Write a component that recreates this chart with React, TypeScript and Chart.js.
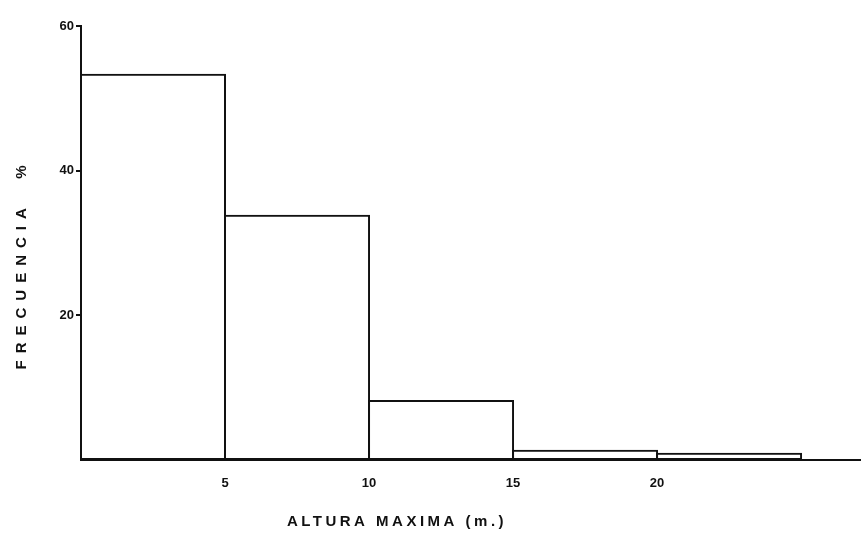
import React, { useEffect, useRef } from "react";
import { Chart, registerables } from "chart.js";

Chart.register(...registerables);

// Histogram data: class centres (m) and frequency (%)
const binCenters = [2.5, 7.5, 12.5, 17.5, 22.5];
const frecuencia = [53.4, 33.9, 8.3, 1.4, 1.0];
const xTicks = [5, 10, 15, 20];
const yTicks = [20, 40, 60];
const xTitle = "ALTURA MAXIMA (m.)";
const yTitle = "FRECUENCIA  %";

const INK = "#111";
const FONT = '"Liberation Sans", Arial, sans-serif';

const titlePlugin = {
  id: "spacedTitles",
  afterDraw(chart: any) {
    const { ctx } = chart;
    ctx.save();
    ctx.fillStyle = INK;
    ctx.textAlign = "center";
    ctx.textBaseline = "middle";
    ctx.font = `bold 15px ${FONT}`;
    (ctx as any).letterSpacing = "3.5px";
    ctx.fillText(xTitle, 397, 522);
    ctx.translate(22, 264);
    ctx.rotate(-Math.PI / 2);
    (ctx as any).letterSpacing = "7px";
    ctx.fillText(yTitle, 0, 0);
    ctx.restore();
  },
};

export default function App() {
  const ref = useRef<HTMLCanvasElement>(null);
  useEffect(() => {
    if (!ref.current) return;
    const chart = new Chart(ref.current, {
      type: "bar",
      data: {
        datasets: [
          {
            data: binCenters.map((x, i) => ({ x, y: frecuencia[i] })),
            backgroundColor: "rgba(255,255,255,0)",
            borderColor: INK,
            borderWidth: 2,
            borderSkipped: false,
            barPercentage: 1.014,
            categoryPercentage: 1,
          },
        ],
      },
      options: {
        responsive: false,
        animation: false,
        layout: { padding: { left: 0, top: 26, right: 0, bottom: 0 } },
        plugins: { legend: { display: false }, tooltip: { enabled: false } },
        scales: {
          x: {
            type: "linear",
            offset: false,
            min: 0,
            max: 27.08,
            afterBuildTicks: (s: any) => {
              s.ticks = xTicks.map((v) => ({ value: v }));
            },
            afterFit: (s: any) => {
              s.height = 81;
            },
            grid: { display: false, offset: false },
            border: { display: true, color: INK, width: 2 },
            ticks: {
              color: INK,
              font: { family: FONT, size: 13, weight: "bold" },
              padding: 8,
              maxRotation: 0,
            },
          },
          y: {
            min: 0,
            max: 60,
            afterBuildTicks: (s: any) => {
              s.ticks = yTicks.map((v) => ({ value: v }));
            },
            afterFit: (s: any) => {
              s.width = 81;
            },
            grid: {
              drawOnChartArea: false,
              drawTicks: true,
              tickLength: 5,
              color: INK,
              lineWidth: 2,
            },
            border: { display: true, color: INK, width: 2 },
            ticks: {
              color: INK,
              font: { family: FONT, size: 13, weight: "bold" },
              padding: 2,
            },
          },
        },
      },
      plugins: [titlePlugin],
    });
    return () => chart.destroy();
  }, []);
  return (
    <div style={{ position: "absolute", left: 0, top: 0, width: 861, height: 541, background: "#fff" }}>
      <canvas ref={ref} width={861} height={541} />
    </div>
  );
}
